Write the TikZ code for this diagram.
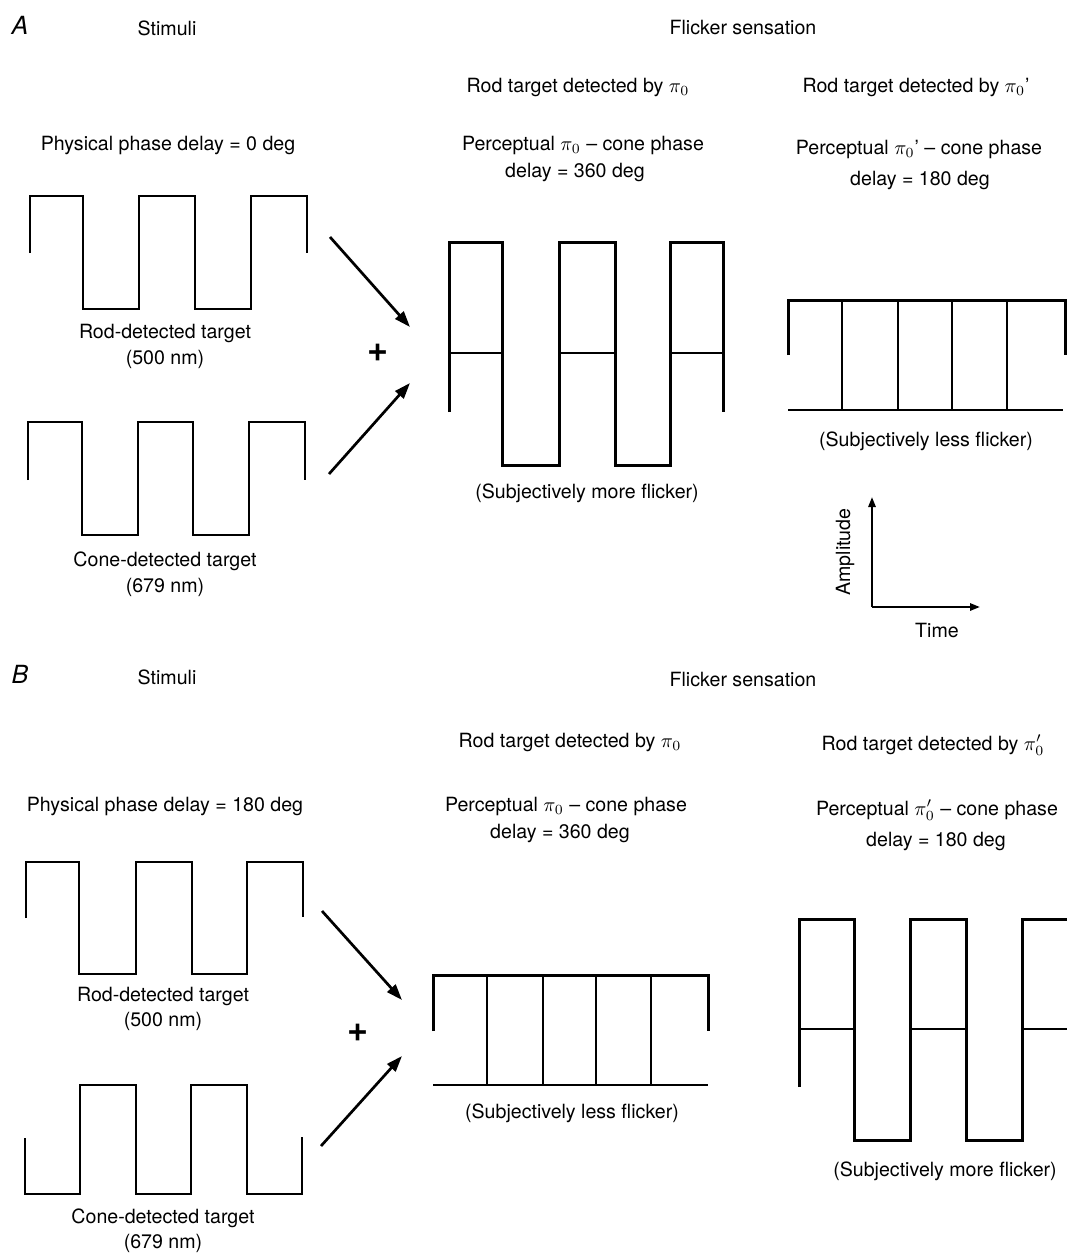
\documentclass[tikz,border=0pt]{standalone}
\usepackage{fontspec}
\setmainfont{TeX Gyre Heros}
\usetikzlibrary{arrows.meta}
\tikzset{
  thinwave/.style={line width=0.55pt},
  thickwave/.style={line width=1.5pt},
  sumarrow/.style={line width=1.35pt,-{Triangle[length=8pt,width=5.5pt]}},
  axisarrow/.style={line width=1.1pt,-{Triangle[length=5pt,width=3.6pt]}},
  lbl/.style={inner sep=0.75pt,font=\fontsize{9.8}{12}\selectfont},
  panellbl/.style={inner sep=0.75pt,font=\fontsize{12.5}{14}\selectfont\itshape},
  plussign/.style={inner sep=0.75pt,font=\fontsize{18}{20}\selectfont\bfseries},
}

\begin{document}
\begin{tikzpicture}[x=0.5pt,y=0.5pt,yscale=-1,xscale=1]
\useasboundingbox (0,0) rectangle (1067,1253);

%%%%%%%%%%%%%%%% Panel A %%%%%%%%%%%%%%%%
%Shape: rod stimulus A
\draw [thinwave] (30,253) -- (30,196) -- (83,196) -- (83,309) -- (139,309) -- (139,196) -- (195,196) -- (195,309) -- (251,309) -- (251,196) -- (307,196) -- (307,253) ;
%Shape: cone stimulus A
\draw [thinwave] (28,480) -- (28,422) -- (82,422) -- (82,535) -- (138,535) -- (138,422) -- (193,422) -- (193,535) -- (249,535) -- (249,422) -- (305,422) -- (305,480) ;

%Straight Lines: summing arrows A
\coordinate (arrAtop0) at (330,237);
\coordinate (arrAtop1) at (410,327);
\coordinate (arrAbot0) at (329,474);
\coordinate (arrAbot1) at (410,383);
\draw [sumarrow] (arrAtop0) -- (arrAtop1) ;
\draw [sumarrow] (arrAbot0) -- (arrAbot1) ;

%Shape: flicker pi0 A (more flicker)
\draw [thickwave] (449,412) -- (449,242) -- (502,242) -- (502,465) -- (559,465) -- (559,242) -- (615,242) -- (615,465) -- (670,465) -- (670,242) -- (723,242) -- (723,412) ;
\draw [thinwave] (449,353) -- (502,353) ;
\draw [thinwave] (559,353) -- (615,353) ;
\draw [thinwave] (670,353) -- (723,353) ;

%Shape: flicker pi0' A (less flicker)
\draw [thickwave] (788,355) -- (788,300) -- (1065,300) -- (1065,355) ;
\draw [thinwave] (788,410) -- (1063,410) ;
\draw [thinwave] (842,300) -- (842,410) ;
\draw [thinwave] (898,300) -- (898,410) ;
\draw [thinwave] (952,300) -- (952,410) ;
\draw [thinwave] (1007,300) -- (1007,410) ;

%Straight Lines: axes
\coordinate (axO) at (872,607);
\coordinate (axY) at (872,497);
\coordinate (axX) at (980,607);
\draw [axisarrow] (axO) -- (axY) ;
\draw [axisarrow] (axO) -- (axX) ;

% Text Node
\draw (20,25) node [panellbl] (labA) {A};
% Text Node
\draw (167,28) node [lbl] (stimA) {Stimuli};
% Text Node
\draw (743,28) node [lbl] (flickA) {Flicker sensation};
% Text Node
\draw (578,87) node [lbl] (rodpiA) {Rod target detected by $\pi_0$};
% Text Node
\draw (916,87) node [lbl] (rodpiprA) {Rod target detected by $\pi_0$'};
% Text Node
\draw (168,145) node [lbl] (physA) {Physical phase delay = 0 deg};
% Text Node
\draw (583,145) node [lbl] (percA) {Perceptual $\pi_0$ -- cone phase};
% Text Node
\draw (575,172) node [lbl] (delA) {delay = 360 deg};
% Text Node
\draw (919,149) node [lbl] (percprA) {Perceptual $\pi_0$' -- cone phase};
% Text Node
\draw (920,180) node [lbl] (delprA) {delay = 180 deg};
% Text Node
\draw (165,333) node [lbl] (rodA) {Rod-detected target};
% Text Node
\draw (165,359) node [lbl] (rodnmA) {(500 nm)};
% Text Node
\draw (378,353) node [plussign] (plusA) {+};
% Text Node
\draw (165,561) node [lbl] (coneA) {Cone-detected target};
% Text Node
\draw (165,587) node [lbl] (conenmA) {(679 nm)};
% Text Node
\draw (587,493) node [lbl] (moreA) {(Subjectively more flicker)};
% Text Node
\draw (926,441) node [lbl] (lessA) {(Subjectively less flicker)};
% Text Node
\draw (845,552) node [lbl,rotate=90] (ampl) {Amplitude};
% Text Node
\draw (937,630) node [lbl] (time) {Time};

%%%%%%%%%%%%%%%% Panel B %%%%%%%%%%%%%%%%
%Shape: rod stimulus B
\draw [thinwave] (26,918) -- (26,862) -- (79,862) -- (79,974) -- (136,974) -- (136,862) -- (192,862) -- (192,974) -- (247,974) -- (247,862) -- (303,862) -- (303,917) ;
%Shape: cone stimulus B
\draw [thinwave] (25,1138) -- (25,1194) -- (80,1194) -- (80,1085) -- (136,1085) -- (136,1194) -- (191,1194) -- (191,1085) -- (247,1085) -- (247,1194) -- (302,1194) -- (302,1137) ;

%Straight Lines: summing arrows B
\coordinate (arrBtop0) at (322,911);
\coordinate (arrBtop1) at (402,1000);
\coordinate (arrBbot0) at (321,1146);
\coordinate (arrBbot1) at (402,1056);
\draw [sumarrow] (arrBtop0) -- (arrBtop1) ;
\draw [sumarrow] (arrBbot0) -- (arrBbot1) ;

%Shape: flicker pi0 B (less flicker)
\draw [thickwave] (433,1031) -- (433,975) -- (708,975) -- (708,1031) ;
\draw [thinwave] (433,1085) -- (708,1085) ;
\draw [thinwave] (487,975) -- (487,1085) ;
\draw [thinwave] (543,975) -- (543,1085) ;
\draw [thinwave] (596,975) -- (596,1085) ;
\draw [thinwave] (651,975) -- (651,1085) ;

%Shape: flicker pi0' B (more flicker)
\draw [thickwave] (799,1087) -- (799,919) -- (854,919) -- (854,1140) -- (910,1140) -- (910,919) -- (966,919) -- (966,1140) -- (1022,1140) -- (1022,919) -- (1067,919) ;
\draw [thinwave] (799,1029) -- (854,1029) ;
\draw [thinwave] (910,1029) -- (966,1029) ;
\draw [thinwave] (1022,1029) -- (1067,1029) ;

% Text Node
\draw (20,674) node [panellbl] (labB) {B};
% Text Node
\draw (167,677) node [lbl] (stimB) {Stimuli};
% Text Node
\draw (743,679) node [lbl] (flickB) {Flicker sensation};
% Text Node
\draw (570,742) node [lbl] (rodpiB) {Rod target detected by $\pi_0$};
% Text Node
\draw (933,745) node [lbl] (rodpiprB) {Rod target detected by $\pi_0^{\prime}$};
% Text Node
\draw (165,806) node [lbl] (physB) {Physical phase delay = 180 deg};
% Text Node
\draw (566,806) node [lbl] (percB) {Perceptual $\pi_0$ -- cone phase};
% Text Node
\draw (560,833) node [lbl] (delB) {delay = 360 deg};
% Text Node
\draw (937,810) node [lbl] (percprB) {Perceptual $\pi_0^{\prime}$ -- cone phase};
% Text Node
\draw (936,841) node [lbl] (delprB) {delay = 180 deg};
% Text Node
\draw (163,996) node [lbl] (rodB) {Rod-detected target};
% Text Node
\draw (163,1021) node [lbl] (rodnmB) {(500 nm)};
% Text Node
\draw (358,1033) node [plussign] (plusB) {+};
% Text Node
\draw (163,1218) node [lbl] (coneB) {Cone-detected target};
% Text Node
\draw (163,1243) node [lbl] (conenmB) {(679 nm)};
% Text Node
\draw (572,1113) node [lbl] (lessB) {(Subjectively less flicker)};
% Text Node
\draw (945,1171) node [lbl] (moreB) {(Subjectively more flicker)};

\end{tikzpicture}
\end{document}
